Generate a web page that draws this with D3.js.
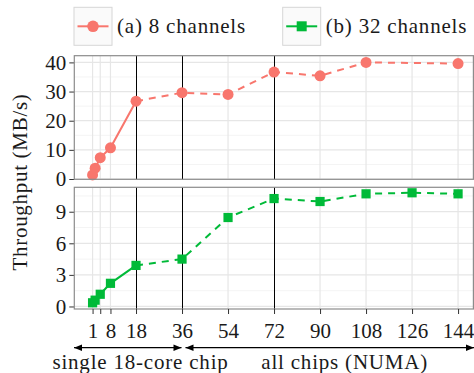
<!DOCTYPE html>
<html>
<head>
<meta charset="utf-8">
<script src="https://cdn.jsdelivr.net/npm/d3@7"></script>
<style>
  body { margin: 0; background: #fff; }
</style>
</head>
<body>
<div id="chart"></div>
<script>
// cores used, and throughput (MB/s) for each channel setup
const cores = [1, 2, 4, 8, 18, 36, 54, 72, 90, 108, 126, 144];
const ch8 = [1.4, 3.7, 7.3, 10.7, 26.7, 29.6, 29.0, 36.7, 35.4, 40.0, null, 39.6];
const ch32 = [0.35, 0.6, 1.16, 2.2, 3.9, 4.5, 8.45, 10.25, 9.97, 10.7, 10.8, 10.7];

const xBreaks = [1, 4, 8, 18, 36, 54, 72, 90, 108, 126, 144];
const xLabels = ["1", "", "8", "18", "36", "54", "72", "90", "108", "126", "144"];
const blackLines = [18, 36, 72];
const topTicks = [0, 10, 20, 30, 40];
const botTicks = [0, 3, 6, 9];
const seriesNames = ["(a) 8 channels", "(b) 32 channels"];

const W = 474, H = 373;
const red = "#F8766D", green = "#00BA38";
const FONT = "'Liberation Serif', 'DejaVu Serif', 'Times New Roman', serif";

let svg = d3.select("#chart").append("svg")
    .attr("width", W).attr("height", H)
    .attr("font-family", FONT);

let x = d3.scaleLinear().domain([-6.15, 150]).range([74.3, 473.4]);

let panels = [
    {data: ch8, color: red, shape: "circle", ticks: topTicks, minor: [5, 15, 25, 35],
     y: d3.scaleLinear().domain([-0.1, 42.3]).range([179.3, 55.7])},
    {data: ch32, color: green, shape: "square", ticks: botTicks, minor: [1.5, 4.5, 7.5, 10.5],
     y: d3.scaleLinear().domain([-0.24, 11.32]).range([309, 187.3])}
];

panels.forEach(p => {
    let [y0, y1] = p.y.range();
    let g = svg.append("g");

    g.append("rect")
        .attr("x", x.range()[0]).attr("y", y1)
        .attr("width", x.range()[1] - x.range()[0]).attr("height", y0 - y1)
        .attr("fill", "#fff");

    // minor + major grid
    g.selectAll(".minor").data(p.minor).enter().append("line")
        .attr("x1", x.range()[0]).attr("x2", x.range()[1])
        .attr("y1", d => p.y(d)).attr("y2", d => p.y(d))
        .attr("stroke", "#f4f4f4").attr("stroke-width", 1);
    g.selectAll(".hmajor").data(p.ticks).enter().append("line")
        .attr("x1", x.range()[0]).attr("x2", x.range()[1])
        .attr("y1", d => p.y(d)).attr("y2", d => p.y(d))
        .attr("stroke", "#e6e6e6").attr("stroke-width", 1.2);
    g.selectAll(".vmajor").data(xBreaks.filter(d => !blackLines.includes(d))).enter().append("line")
        .attr("x1", d => x(d)).attr("x2", d => x(d))
        .attr("y1", y0).attr("y2", y1)
        .attr("stroke", "#e6e6e6").attr("stroke-width", 1.2);
    g.selectAll(".vblack").data(blackLines).enter().append("line")
        .attr("x1", d => Math.round(x(d)) + 0.5).attr("x2", d => Math.round(x(d)) + 0.5)
        .attr("y1", y0).attr("y2", y1)
        .attr("stroke", "#000").attr("stroke-width", 1);

    // y axis
    let ax = g.append("g")
        .attr("transform", "translate(" + x.range()[0] + ",0)")
        .call(d3.axisLeft(p.y).tickValues(p.ticks).tickSize(5).tickPadding(3));
    ax.attr("font-family", FONT);
    ax.select(".domain").remove();
    ax.selectAll(".tick line").attr("stroke", "#333");
    ax.selectAll(".tick text").attr("font-size", 21).attr("fill", "#1a1a1a");

    let pts = cores.map((c, i) => ({x: c, v: p.data[i]})).filter(d => d.v !== null);
    let solid = pts.filter(d => d.x <= 18);
    let dashed = pts.filter(d => d.x >= 18);
    let line = d3.line().x(d => x(d.x)).y(d => p.y(d.v));

    g.append("path").attr("d", line(solid))
        .attr("fill", "none").attr("stroke", p.color).attr("stroke-width", 2);
    g.append("path").attr("d", line(dashed))
        .attr("fill", "none").attr("stroke", p.color).attr("stroke-width", 2)
        .attr("stroke-dasharray", "7,6");

    if (p.shape === "circle") {
        g.selectAll(".pt").data(pts).enter().append("circle")
            .attr("cx", d => x(d.x)).attr("cy", d => p.y(d.v)).attr("r", 5.5)
            .attr("fill", p.color);
    } else {
        g.selectAll(".pt").data(pts).enter().append("rect")
            .attr("x", d => x(d.x) - 4.6).attr("y", d => p.y(d.v) - 4.6)
            .attr("width", 9.2).attr("height", 9.2)
            .attr("fill", p.color);
    }

    // panel border
    g.append("rect")
        .attr("x", x.range()[0]).attr("y", y1)
        .attr("width", x.range()[1] - x.range()[0]).attr("height", y0 - y1)
        .attr("fill", "none").attr("stroke", "#8c8c8c").attr("stroke-width", 1.2);
});

// x axis under bottom panel
let xa = svg.append("g")
    .attr("transform", "translate(0," + panels[1].y.range()[0] + ")")
    .call(d3.axisBottom(x).tickValues(xBreaks).tickFormat((d, i) => xLabels[i]).tickSize(5).tickPadding(9));
xa.attr("font-family", FONT);
xa.select(".domain").remove();
xa.selectAll(".tick line").attr("stroke", "#333");
xa.selectAll(".tick text").attr("font-size", 21).attr("fill", "#1a1a1a");

// y title
svg.append("text")
    .attr("transform", "translate(26.5,182) rotate(-90)")
    .attr("text-anchor", "middle")
    .attr("font-size", 21).attr("letter-spacing", 0.7).attr("fill", "#1a1a1a")
    .text("Throughput (MB/s)");

// legend
let legendX = [74, 282.7];
seriesNames.forEach((name, i) => {
    let lg = svg.append("g").attr("transform", "translate(" + legendX[i] + ",7.3)");
    let col = i === 0 ? red : green;
    lg.append("rect").attr("width", 38).attr("height", 38)
        .attr("fill", "#fafafa").attr("stroke", "#d6d6d6").attr("stroke-width", 1);
    lg.append("line").attr("x1", 3.5).attr("x2", 34.5).attr("y1", 19).attr("y2", 19)
        .attr("stroke", col).attr("stroke-width", 2);
    if (i === 0) {
        lg.append("circle").attr("cx", 19).attr("cy", 19).attr("r", 5.8).attr("fill", col);
    } else {
        lg.append("rect").attr("x", 14).attr("y", 14).attr("width", 10).attr("height", 10).attr("fill", col);
    }
    lg.append("text").attr("x", 43).attr("y", 26).attr("font-size", 21)
        .attr("letter-spacing", 0.8).attr("fill", "#1a1a1a").text(name);
});

// arrows at the bottom
let defs = svg.append("defs");
defs.append("marker")
    .attr("id", "ah").attr("viewBox", "0 -5 10 10")
    .attr("refX", 10).attr("refY", 0)
    .attr("markerWidth", 10).attr("markerHeight", 8)
    .attr("markerUnits", "userSpaceOnUse")
    .attr("orient", "auto-start-reverse")
    .append("path").attr("d", "M0,-4L10,0L0,4Z").attr("fill", "#000");

let arrowY = 347.7;
[[74, 181.5], [185.5, 474]].forEach(a => {
    svg.append("line")
        .attr("x1", a[0]).attr("x2", a[1]).attr("y1", arrowY).attr("y2", arrowY)
        .attr("stroke", "#000").attr("stroke-width", 1.3)
        .attr("marker-start", "url(#ah)").attr("marker-end", "url(#ah)");
});
svg.append("text").attr("x", 140.5).attr("y", 368.5).attr("text-anchor", "middle")
    .attr("font-size", 21).attr("letter-spacing", 0.8).attr("fill", "#1a1a1a").text("single 18-core chip");
svg.append("text").attr("x", 344.7).attr("y", 368.5).attr("text-anchor", "middle")
    .attr("font-size", 21).attr("letter-spacing", 0.8).attr("fill", "#1a1a1a").text("all chips (NUMA)");
</script>
</body>
</html>
